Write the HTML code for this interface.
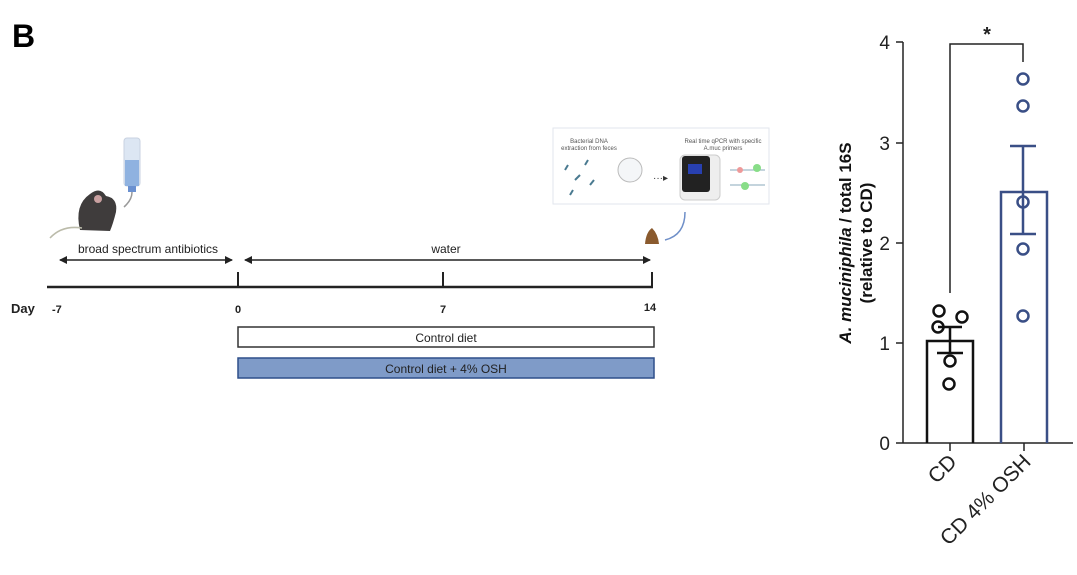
<!DOCTYPE html>
<html><head><meta charset="utf-8"><style>
html,body{margin:0;padding:0;background:#fff;}
svg{display:block;font-family:"Liberation Sans",Arial,sans-serif;}
</style></head><body>
<svg width="1077" height="575" viewBox="0 0 1077 575" xmlns="http://www.w3.org/2000/svg">
<defs>
<marker id="ah" markerWidth="8" markerHeight="8" refX="7" refY="4" orient="auto-start-reverse" markerUnits="userSpaceOnUse">
<path d="M0,0 L8,4 L0,8 z" fill="#222"/>
</marker>
</defs>
<text x="12" y="47" font-size="32" font-weight="bold" fill="#000">B</text>

<!-- bottle -->
<rect x="124" y="138" width="16" height="48" rx="3" fill="#dce6f3" stroke="#c8d2e0"/>
<rect x="125" y="160" width="14" height="26" fill="#8fb2e0"/>
<rect x="128" y="186" width="8" height="6" fill="#6a90d0"/>
<path d="M132,192 Q132,200 124,207" stroke="#999" stroke-width="1.5" fill="none"/>
<!-- mouse -->
<path d="M80,230 Q74,205 90,194 Q100,186 106,196 Q118,198 116,212 Q113,224 110,231 Z" fill="#3f3c3c"/>
<circle cx="98" cy="199" r="4" fill="#c9a0a0"/>
<path d="M82,228 Q62,225 50,238" stroke="#bba" stroke-width="1.5" fill="none"/>

<!-- inset -->
<rect x="553" y="128" width="216" height="76" fill="#fff" stroke="#e2e6ec"/>
<text x="589" y="143" font-size="6" fill="#555" text-anchor="middle">Bacterial DNA</text>
<text x="589" y="150" font-size="6" fill="#555" text-anchor="middle">extraction from feces</text>
<text x="723" y="143" font-size="6" fill="#555" text-anchor="middle">Real time qPCR with specific</text>
<text x="723" y="150" font-size="6" fill="#555" text-anchor="middle">A.muc primers</text>
<g stroke="#4a7a90" stroke-width="2"><line x1="565" y1="170" x2="568" y2="165"/><line x1="575" y1="180" x2="580" y2="175"/><line x1="585" y1="165" x2="588" y2="160"/><line x1="570" y1="195" x2="573" y2="190"/><line x1="590" y1="185" x2="594" y2="180"/></g>
<circle cx="630" cy="170" r="12" fill="#f4f6f8" stroke="#bbb"/>
<text x="653" y="181" font-size="10" fill="#333">···▸</text>
<rect x="680" y="155" width="40" height="45" rx="5" fill="#eee" stroke="#ccc"/>
<rect x="682" y="156" width="28" height="36" rx="3" fill="#222"/>
<rect x="688" y="164" width="14" height="10" fill="#2840b0"/>
<line x1="730" y1="170" x2="765" y2="170" stroke="#8ab"/><line x1="730" y1="185" x2="765" y2="185" stroke="#8ab"/>
<circle cx="757" cy="168" r="4" fill="#8d8"/><circle cx="745" cy="186" r="4" fill="#8d8"/><circle cx="740" cy="170" r="3" fill="#e99"/>
<path d="M685,212 Q685,235 665,240" stroke="#6f8fc8" stroke-width="1.5" fill="none"/>
<path d="M645,244 Q646,232 652,228 Q658,234 659,244 Z" fill="#8a5a2e"/>

<!-- timeline arrows -->
<line x1="60" y1="260" x2="232" y2="260" stroke="#222" stroke-width="1.5" marker-start="url(#ah)" marker-end="url(#ah)"/>
<line x1="245" y1="260" x2="650" y2="260" stroke="#222" stroke-width="1.5" marker-start="url(#ah)" marker-end="url(#ah)"/>
<text x="148" y="253" font-size="12" fill="#222" text-anchor="middle">broad spectrum antibiotics</text>
<text x="446" y="253" font-size="12" fill="#222" text-anchor="middle">water</text>
<line x1="47" y1="287" x2="653" y2="287" stroke="#222" stroke-width="2.5"/>
<line x1="238" y1="272" x2="238" y2="288" stroke="#222" stroke-width="2"/>
<line x1="443" y1="272" x2="443" y2="288" stroke="#222" stroke-width="2"/>
<line x1="652" y1="272" x2="652" y2="288" stroke="#222" stroke-width="2"/>
<text x="11" y="313" font-size="13" font-weight="bold" fill="#222">Day</text>
<text x="52" y="313" font-size="11" font-weight="bold" fill="#222">-7</text>
<text x="238" y="313" font-size="11" font-weight="bold" fill="#222" text-anchor="middle">0</text>
<text x="443" y="313" font-size="11" font-weight="bold" fill="#222" text-anchor="middle">7</text>
<text x="650" y="311" font-size="11" font-weight="bold" fill="#222" text-anchor="middle">14</text>
<rect x="238" y="327" width="416" height="20" fill="#fff" stroke="#333" stroke-width="1.5"/>
<text x="446" y="342" font-size="12" fill="#222" text-anchor="middle">Control diet</text>
<rect x="238" y="358" width="416" height="20" fill="#7f9bc8" stroke="#2f4f8a" stroke-width="1.5"/>
<text x="446" y="373" font-size="12" fill="#222" text-anchor="middle">Control diet + 4% OSH</text>

<!-- chart -->
<g stroke="#222" stroke-width="1.5">
<line x1="903" y1="42" x2="903" y2="443"/>
<line x1="903" y1="443" x2="1073" y2="443"/>
<line x1="896" y1="42" x2="903" y2="42"/><line x1="896" y1="143" x2="903" y2="143"/><line x1="896" y1="243" x2="903" y2="243"/><line x1="896" y1="343" x2="903" y2="343"/><line x1="896" y1="443" x2="903" y2="443"/>
<line x1="950" y1="443" x2="950" y2="451"/><line x1="1024" y1="443" x2="1024" y2="451"/>
<polyline points="950,293 950,44 1023,44 1023,62" fill="none"/>
</g>
<g font-size="19" fill="#222" text-anchor="end">
<text x="890" y="49">4</text><text x="890" y="150">3</text><text x="890" y="250">2</text><text x="890" y="350">1</text><text x="890" y="450">0</text>
</g>
<text x="987" y="41" font-size="20" font-weight="bold" fill="#222" text-anchor="middle">*</text>
<text transform="translate(851,243) rotate(-90)" font-size="17" font-weight="bold" fill="#111" text-anchor="middle"><tspan font-style="italic">A. muciniphila</tspan> / total 16S</text>
<text transform="translate(872,243) rotate(-90)" font-size="17" font-weight="bold" fill="#111" text-anchor="middle">(relative to CD)</text>

<g stroke="#111" stroke-width="2.5" fill="none">
<polyline points="927,443 927,341 973,341 973,443"/>
<line x1="950" y1="327" x2="950" y2="353"/><line x1="938" y1="327" x2="962" y2="327"/><line x1="937" y1="353" x2="963" y2="353"/>
<circle cx="939" cy="311" r="5.5"/><circle cx="962" cy="317" r="5.5"/><circle cx="938" cy="327" r="5.5"/><circle cx="950" cy="361" r="5.5"/><circle cx="949" cy="384" r="5.5"/>
</g>
<g stroke="#3a4f86" stroke-width="2.5" fill="none">
<polyline points="1001,443 1001,192 1047,192 1047,443"/>
<line x1="1023" y1="146" x2="1023" y2="234"/><line x1="1010" y1="146" x2="1036" y2="146"/><line x1="1010" y1="234" x2="1036" y2="234"/>
<circle cx="1023" cy="79" r="5.5"/><circle cx="1023" cy="106" r="5.5"/><circle cx="1023" cy="202" r="5.5"/><circle cx="1023" cy="249" r="5.5"/><circle cx="1023" cy="316" r="5.5"/>
</g>
<text transform="translate(958,463) rotate(-45)" font-size="21" fill="#222" text-anchor="end">CD</text>
<text transform="translate(1032,463) rotate(-45)" font-size="21" fill="#222" text-anchor="end">CD 4% OSH</text>
</svg>
</body></html>
